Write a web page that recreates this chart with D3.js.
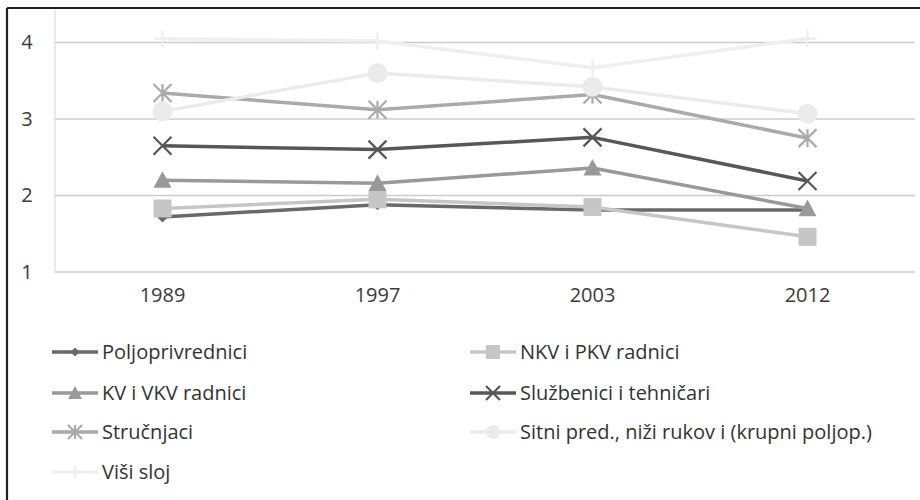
<!DOCTYPE html>
<html><head><meta charset="utf-8">
<script src="https://cdn.jsdelivr.net/npm/d3@7"></script>
<style>body{margin:0;background:#fff}svg{display:block}</style>
</head><body><svg id="c" width="920" height="500"></svg>
<script>
const years = ["1989","1997","2003","2012"];
const yTicks = [1,2,3,4];
const seriesNames = ["Poljoprivrednici","NKV i PKV radnici","KV i VKV radnici","Službenici i tehničari","Stručnjaci","Sitni pred., niži rukov i (krupni poljop.)","Viši sloj"];
const poljo = [1.72,1.88,1.81,1.81];
const nkv = [1.83,1.95,1.85,1.46];
const kv = [2.20,2.16,2.36,1.83];
const sluz = [2.65,2.60,2.76,2.19];
const struc = [3.34,3.12,3.32,2.75];
const sitni = [3.10,3.60,3.42,3.07];
const visi = [4.05,4.02,3.67,4.05];
const allValues = [poljo,nkv,kv,sluz,struc,sitni,visi];

const colors = ["#696969","#c6c6c6","#999999","#575757","#aaaaaa","#ebebeb","#efefef"];
const markers = ["diamond","square","triangle","x","asterisk","circle","plus"];

const svg = d3.select("#c");
const pLeft=55, pRight=915, pTop=10, pBottom=272;
const x = d3.scaleBand().domain(years).range([pLeft,pRight]);
const y = d3.scaleLinear().domain([1,4.4]).range([pBottom, pBottom-3.4*76.5]);
const FONT = "'Open Sans', sans-serif";

// frame
svg.append("line").attr("x1",7).attr("x2",920).attr("y1",8).attr("y2",8).attr("stroke","#222").attr("stroke-width",2.2);
svg.append("line").attr("x1",7).attr("x2",7).attr("y1",8).attr("y2",500).attr("stroke","#222").attr("stroke-width",2.2);

// gridlines
svg.append("g").selectAll("line").data(yTicks).join("line")
  .attr("x1",pLeft).attr("x2",pRight).attr("y1",d=>y(d)).attr("y2",d=>y(d))
  .attr("stroke","#cccccc").attr("stroke-width",1.6);
svg.append("line").attr("x1",pLeft).attr("x2",pLeft).attr("y1",pTop).attr("y2",pBottom).attr("stroke","#d5d5d5").attr("stroke-width",1);

// y axis labels
const yAxis = d3.axisLeft(y).tickValues(yTicks).tickSize(0).tickPadding(0).tickFormat(d3.format("d"));
const ya = svg.append("g").attr("transform","translate(27,0)").call(yAxis);
ya.select(".domain").remove();
ya.selectAll("text").attr("font-family",FONT).attr("font-size",20).attr("fill","#3a3a3a").attr("text-anchor","middle").attr("dx",0);

// x axis labels
const xAxis = d3.axisBottom(x).tickSize(0).tickPadding(0);
const xa = svg.append("g").attr("transform","translate(0,288)").call(xAxis);
xa.select(".domain").remove();
xa.selectAll("text").attr("font-family",FONT).attr("font-size",20).attr("fill","#3a3a3a");

function marker(g, type, cx, cy, s, col){
  const h=s/2;
  if(type==="diamond"){
    g.append("path").attr("d",`M${cx},${cy-h}L${cx+h},${cy}L${cx},${cy+h}L${cx-h},${cy}Z`).attr("fill",col);
  } else if(type==="square"){
    g.append("rect").attr("x",cx-h).attr("y",cy-h).attr("width",s).attr("height",s).attr("fill",col);
  } else if(type==="triangle"){
    g.append("path").attr("d",`M${cx},${cy-h}L${cx+h},${cy+h*0.85}L${cx-h},${cy+h*0.85}Z`).attr("fill",col);
  } else if(type==="circle"){
    g.append("circle").attr("cx",cx).attr("cy",cy).attr("r",h).attr("fill",col);
  } else if(type==="x"){
    g.append("path").attr("d",`M${cx-h},${cy-h}L${cx+h},${cy+h}M${cx-h},${cy+h}L${cx+h},${cy-h}`).attr("stroke",col).attr("stroke-width",2.2).attr("fill","none");
  } else if(type==="plus"){
    g.append("path").attr("d",`M${cx-h},${cy}L${cx+h},${cy}M${cx},${cy-h}L${cx},${cy+h}`).attr("stroke",col).attr("stroke-width",2.2).attr("fill","none");
  } else if(type==="asterisk"){
    g.append("path").attr("d",`M${cx-h},${cy-h}L${cx+h},${cy+h}M${cx-h},${cy+h}L${cx+h},${cy-h}M${cx},${cy-h}L${cx},${cy+h}`).attr("stroke",col).attr("stroke-width",2.2).attr("fill","none");
  }
}
const msize = [11,18,18,18,18,20,18];

const line = d3.line().x((d,i)=>x(years[i])+x.bandwidth()/2).y(d=>y(d));
allValues.forEach((vals,si)=>{
  const g = svg.append("g");
  g.append("path").datum(vals).attr("d",line).attr("fill","none").attr("stroke",colors[si]).attr("stroke-width",3.5).attr("stroke-linejoin","round");
  vals.forEach((v,i)=>marker(g, markers[si], x(years[i])+x.bandwidth()/2, y(v), msize[si], colors[si]));
});

// legend
const legRows = [352,393,432,472];
const lmsize = [9,14,14,14,14,14,14];
seriesNames.forEach((name,i)=>{
  const col = i%2, row = Math.floor(i/2);
  const lx = col===0 ? 52 : 470;
  const ly = legRows[row];
  const g = svg.append("g");
  g.append("line").attr("x1",lx).attr("x2",lx+46).attr("y1",ly).attr("y2",ly).attr("stroke",colors[i]).attr("stroke-width",3.5);
  marker(g, markers[i], lx+23, ly, lmsize[i], colors[i]);
  g.append("text").attr("x",lx+50).attr("y",ly).attr("dy","0.35em").text(name)
    .attr("font-family",FONT).attr("font-size",20).attr("fill","#333");
});
</script></body></html>
